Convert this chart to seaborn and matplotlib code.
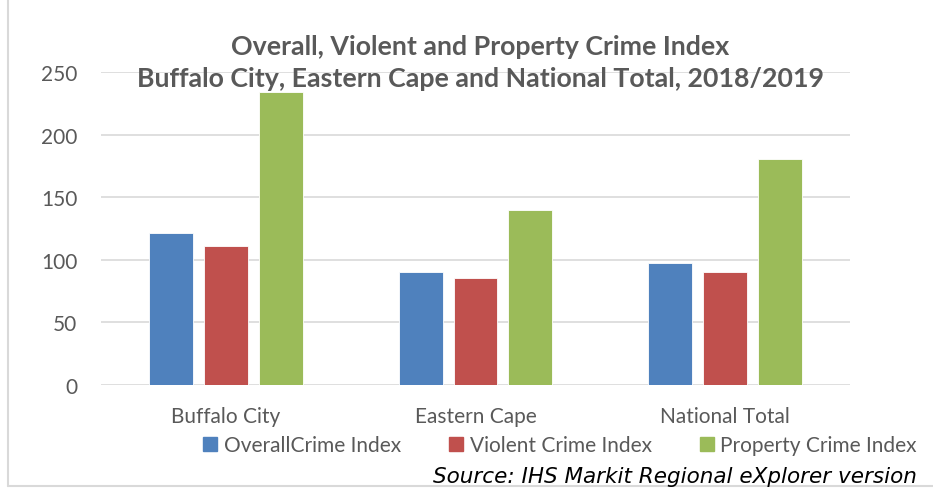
import pandas as pd
import seaborn as sns
import matplotlib.pyplot as plt
from matplotlib.lines import Line2D

regions = ["Buffalo City", "Eastern Cape", "National Total"]
series = ["OverallCrime Index", "Violent Crime Index", "Property Crime Index"]
overall = [121.3, 90.3, 97.4]
violent = [111.0, 85.7, 90.3]
property_ = [233.8, 139.9, 180.3]
colors = ["#4F81BD", "#C0504D", "#9BBB59"]

df = pd.DataFrame({
    "region": regions * 3,
    "series": [s for s in series for _ in regions],
    "value": overall + violent + property_,
})

sns.set_theme(style="white")
plt.rcParams["font.family"] = ["Lato", "DejaVu Sans"]
text_grey = "#595959"
grid_grey = "#D9D9D9"

fig = plt.figure(figsize=(9.33, 4.89), dpi=100)
ax = fig.add_axes([101 / 933, 1 - 386 / 489, 749 / 933, 313 / 489])

sns.barplot(data=df, x="region", y="value", hue="series", palette=colors,
            width=0.66, gap=0.2, ax=ax, legend=False, saturation=1,
            edgecolor="white", linewidth=0.6, zorder=3)

ax.set_xlim(-0.5, 2.5)
ax.set_ylim(0, 250)
ax.set_yticks(range(0, 251, 50))
ax.yaxis.grid(True, color=grid_grey, linewidth=1.2, zorder=0)
ax.set_axisbelow(True)
for s in ax.spines.values():
    s.set_visible(False)
ax.set_xlabel("")
ax.set_ylabel("")
ax.tick_params(axis="y", labelsize=15, labelcolor=text_grey, length=0, pad=17)
ax.tick_params(axis="x", labelsize=15, labelcolor=text_grey, length=0, pad=15)

fig.text(0.515, 1 - 63 / 489, "Overall, Violent and Property Crime Index\nBuffalo City, Eastern Cape and National Total, 2018/2019",
         ha="center", va="center", fontsize=19.3, fontweight="bold", color=text_grey,
         linespacing=1.42)

handles = [Line2D([], [], marker="s", linestyle="", markersize=10,
                  markerfacecolor=c, markeredgecolor=c) for c in colors]
fig.legend(handles, series, loc="center", bbox_to_anchor=(560 / 933, 1 - 446 / 489),
           ncol=3, frameon=False, fontsize=15, labelcolor=text_grey,
           handlelength=0.7, handletextpad=0.3, columnspacing=2.3)

fig.text(917 / 933, 1 - 477 / 489, "Source: IHS Markit Regional eXplorer version",
         ha="right", va="center", fontsize=15.5, style="italic",
         family="DejaVu Sans", color="black")

fig.add_artist(Line2D([8 / 933, 8 / 933], [1 - 487 / 489, 1.0], color=grid_grey,
                      linewidth=1.5, transform=fig.transFigure))
fig.add_artist(Line2D([8 / 933, 1.0], [1 - 487 / 489, 1 - 487 / 489], color=grid_grey,
                      linewidth=1.5, transform=fig.transFigure))

fig.savefig("out.png", dpi=100)
